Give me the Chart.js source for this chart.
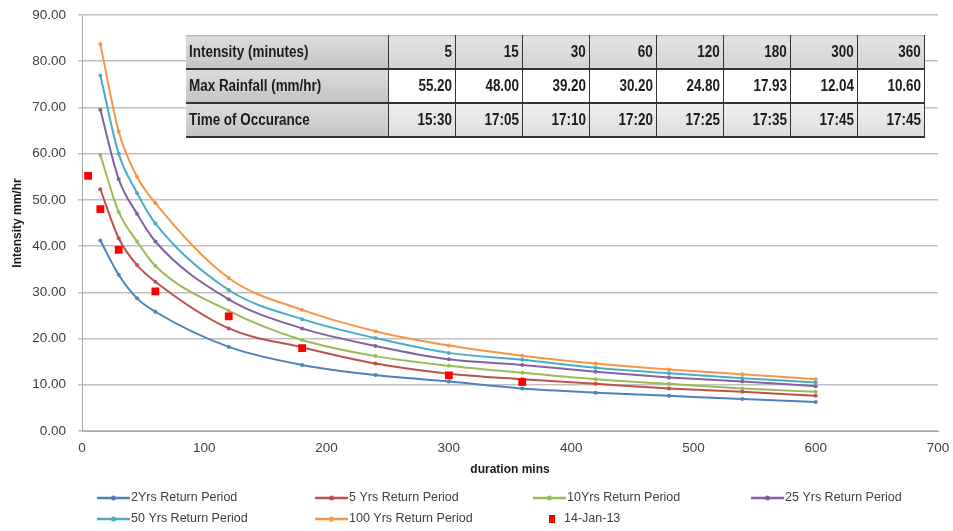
<!DOCTYPE html>
<html>
<head>
<meta charset="utf-8">
<script src="https://cdn.jsdelivr.net/npm/chart.js@4"></script>
<style>
  html, body { margin:0; padding:0; background:#fff; }
  #wrap { position:relative; width:953px; height:531px; }
  #c { position:absolute; left:0; top:0; }
  #tbl { position:absolute; left:186px; top:35px; border-collapse:collapse;
         font-family:"Liberation Sans",Arial,sans-serif; font-weight:bold;
         font-size:16px; color:#1c1c1c; }
  #tbl td { height:32px; padding:0 3px; border-right:1.5px solid #333; border-bottom:2px solid #333; text-align:right; white-space:nowrap; }
  #tbl td span { display:inline-block; transform:scaleX(0.84); }
  #tbl td.h { text-align:left; width:196px; background:linear-gradient(#dcdcdc,#c4c4c4); }
  #tbl td.h span { transform-origin:left center; }
  #tbl td.n span { transform-origin:right center; }
  #tbl td.n { width:60px; }
  #tbl tr.r0 td.n { background:linear-gradient(#e4e4e4,#d4d4d4); }
  #tbl tr.r1 td.n { background:#fff; }
  #tbl tr.r2 td.n { background:linear-gradient(#eeeeee,#dedede); }
  #tbl tr.r0 td { border-top:1px solid #bbb; }
</style>
</head>
<body>
<div id="wrap">
<canvas id="c" width="953" height="531"></canvas>
<table id="tbl"></table>
</div>
<script>
// ---- data ----
const durations = [15, 30, 45, 60, 120, 180, 240, 300, 360, 420, 480, 540, 600];
const rp2   = [41.2, 33.8, 28.7, 25.8, 18.2, 14.3, 12.1, 10.7, 9.2, 8.3, 7.6, 6.9, 6.3];
const rp5   = [52.3, 41.7, 35.9, 32.3, 22.2, 18.1, 14.6, 12.4, 11.2, 10.2, 9.2, 8.5, 7.6];
const rp10  = [59.7, 47.4, 41.0, 35.7, 26.0, 19.7, 16.2, 14.1, 12.6, 11.2, 10.2, 9.2, 8.5];
const rp25  = [69.5, 54.5, 47.0, 41.0, 28.5, 22.2, 18.4, 15.5, 14.3, 12.8, 11.6, 10.7, 9.7];
const rp50  = [76.9, 60.0, 51.5, 44.9, 30.5, 24.2, 20.1, 16.9, 15.4, 13.7, 12.5, 11.4, 10.5];
const rp100 = [83.7, 64.8, 55.0, 49.3, 33.1, 26.2, 21.6, 18.5, 16.3, 14.6, 13.3, 12.3, 11.2];

const obsMinutes = [5, 15, 30, 60, 120, 180, 300, 360];
const obsRain    = [55.20, 48.00, 39.20, 30.20, 24.80, 17.93, 12.04, 10.60];
const obsTime    = ["15:30", "17:05", "17:10", "17:20", "17:25", "17:35", "17:45", "17:45"];

const seriesNames = ["2Yrs Return Period", "5 Yrs Return Period", "10Yrs Return Period", "25 Yrs Return Period",
                     "50 Yrs Return Period", "100 Yrs Return Period"];
const obsName = "14-Jan-13";
const rowLabels = ["Intensity (minutes)", "Max Rainfall (mm/hr)", "Time of Occurance"];
const xTitle = "duration mins";
const yTitle = "Intensity mm/hr";

// ---- table ----
(function(){
  const t = document.getElementById('tbl');
  const rows = [obsMinutes.map(String), obsRain.map(v => v.toFixed(2)), obsTime];
  rows.forEach((r, i) => {
    const tr = document.createElement('tr'); tr.className = 'r' + i;
    const th = document.createElement('td'); th.className = 'h';
    const s0 = document.createElement('span'); s0.textContent = rowLabels[i]; th.appendChild(s0); tr.appendChild(th);
    r.forEach(v => {
      const td = document.createElement('td'); td.className = 'n';
      const s = document.createElement('span'); s.textContent = v; td.appendChild(s); tr.appendChild(td);
    });
    t.appendChild(tr);
  });
})();

const colors = ["#4F81BD", "#C0504D", "#9BBB59", "#8064A2", "#4BACC6", "#F79646"];
const allSeries = [rp2, rp5, rp10, rp25, rp50, rp100];
const datasets = allSeries.map((s, i) => ({
  label: seriesNames[i],
  data: durations.map((d, k) => ({x: d, y: s[k]})),
  borderColor: colors[i], backgroundColor: colors[i],
  borderWidth: 2, pointRadius: 2, pointStyle: 'circle', pointBorderWidth: 0,
  cubicInterpolationMode: 'monotone', showLine: true, type: 'line', order: 2
}));
datasets.push({
  label: obsName, type: 'scatter',
  data: obsMinutes.map((d, k) => ({x: d, y: obsRain[k]})),
  backgroundColor: '#FF0000', borderColor: '#FF0000', pointStyle: 'rect', pointRadius: 5.5, borderWidth: 0, order: 0
});

const FONT = '"Liberation Sans", Arial, sans-serif';

const legendPlugin = {
  id: 'gridLegend',
  afterDraw(chart) {
    const ctx = chart.ctx;
    ctx.save();
    ctx.font = '12.5px ' + FONT;
    ctx.textBaseline = 'middle';
    chart.data.datasets.forEach((ds, i) => {
      const col = i % 4, row = Math.floor(i / 4);
      const x0 = 97 + col * 218, y = 498 + row * 21;
      if (ds.type === 'scatter') {
        ctx.fillStyle = ds.backgroundColor;
        ctx.fillRect(x0 + 16, y - 4, 6, 8);
        ctx.fillStyle = '#404040';
        ctx.fillText(ds.label, x0 + 31, y);
      } else {
        ctx.strokeStyle = ds.borderColor; ctx.lineWidth = 2.5;
        ctx.beginPath(); ctx.moveTo(x0, y); ctx.lineTo(x0 + 33, y); ctx.stroke();
        ctx.fillStyle = ds.borderColor;
        ctx.beginPath(); ctx.arc(x0 + 16.5, y, 2.5, 0, Math.PI * 2); ctx.fill();
        ctx.fillStyle = '#404040';
        ctx.fillText(ds.label, x0 + 34, y);
      }
    });
    ctx.restore();
  }
};

new Chart(document.getElementById('c'), {
  type: 'line',
  data: { datasets },
  options: {
    responsive: false, animation: false,
    layout: { padding: { left: 6, right: 15, top: 15, bottom: 50 } },
    plugins: { legend: { display: false }, tooltip: { enabled: false } },
    scales: {
      x: {
        type: 'linear', min: 0, max: 700,
        ticks: { stepSize: 100, color: '#404040', font: { size: 13.5, family: FONT }, padding: 9 },
        grid: { display: false, drawTicks: false },
        border: { color: '#a6a6a6', width: 1 },
        title: { display: true, text: xTitle, color: '#1a1a1a', font: { size: 12, weight: 'bold', family: FONT }, padding: { top: 6 } },
        afterFit(s) { s.height = 50; s.paddingLeft = 0; s.paddingRight = 0; }
      },
      y: {
        min: 0, max: 90,
        ticks: { stepSize: 10, color: '#404040', font: { size: 13.5, family: FONT }, padding: 12,
                 callback: v => Number(v).toFixed(2) },
        grid: { color: '#c0c0c0', lineWidth: 1.5, tickLength: 4 },
        border: { color: '#a6a6a6', width: 1 },
        title: { display: true, text: yTitle, color: '#1a1a1a', font: { size: 12, weight: 'bold', family: FONT } },
        afterFit(s) { s.width = 76; s.paddingTop = 0; s.paddingBottom = 0; }
      }
    }
  },
  plugins: [legendPlugin]
});
</script>
</body>
</html>
